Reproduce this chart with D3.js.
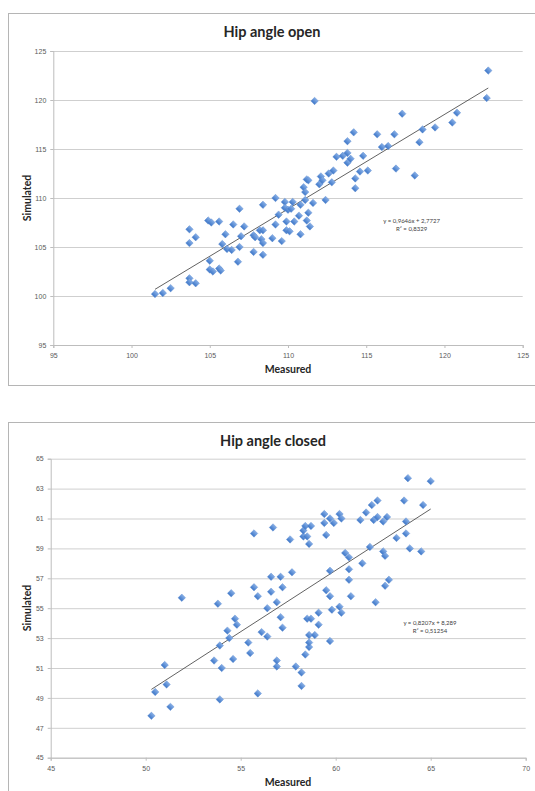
<!DOCTYPE html>
<html>
<head>
<meta charset="utf-8">
<script src="https://cdn.jsdelivr.net/npm/d3@7"></script>
<style>
  body { margin: 0; background: #fff; }
  svg { display: block; font-family: Lato, "Open Sans", sans-serif; }
  .tick text { font-size: 7px; }
  .axisTitle { font-weight: bold; font-size: 10.5px; fill: #262626; }
  .chartTitle { font-weight: bold; font-size: 14.5px; fill: #262626; }
  .eq { font-size: 6px; fill: #404040; }
</style>
</head>
<body>
<div id="chart"></div>
<script>
// Hip angle open: measured vs simulated
var openMeasured = [101.5, 102.0, 102.5, 103.7, 103.7, 104.1, 103.7, 103.7, 104.1, 104.9,
  105.1, 105.6, 105.0, 105.0, 105.2, 105.6, 105.7, 105.8, 106.0, 106.1,
  106.4, 106.5, 106.9, 107.0, 106.9, 106.8, 107.2, 107.8, 107.9, 107.8,
  108.2, 108.3, 108.4, 108.4, 108.4, 108.4, 109.0, 109.2, 109.2, 109.4,
  109.6, 109.8, 109.8, 109.9, 109.9, 110.0, 110.1, 110.2, 110.3, 110.4,
  110.7, 110.8, 110.8, 111.0, 111.1, 111.1, 111.2, 111.2, 111.3, 111.3,
  111.4, 111.7, 111.6, 112.0, 112.1, 112.2, 112.4, 112.6, 112.9, 112.8,
  113.1, 113.5, 113.8, 113.8, 113.8, 114.0, 114.2, 114.3, 114.3, 114.6,
  114.8, 115.1, 115.7, 116.0, 116.4, 116.8, 116.9, 117.3, 118.1, 118.4,
  118.6, 119.4, 120.5, 120.8, 122.7, 122.8];
var openSimulated = [100.2, 100.3, 100.8, 106.8, 105.4, 106.0, 101.8, 101.4, 101.3, 107.7,
  107.5, 107.6, 103.6, 102.7, 102.5, 102.8, 102.6, 105.3, 106.3, 104.8,
  104.7, 107.3, 108.9, 106.1, 105.0, 103.5, 107.1, 106.2, 106.0, 104.5,
  106.7, 105.8, 109.3, 106.7, 105.4, 104.2, 105.9, 107.3, 110.0, 108.3,
  105.6, 109.6, 109.0, 107.6, 106.7, 108.8, 106.6, 108.9, 109.6, 107.6,
  108.2, 106.3, 109.3, 111.1, 110.6, 109.8, 107.7, 111.9, 111.8, 108.5,
  107.1, 119.9, 109.5, 111.4, 112.2, 111.8, 109.8, 112.5, 112.8, 111.6,
  114.2, 114.3, 114.6, 115.8, 113.6, 114.0, 116.7, 112.0, 111.0, 112.7,
  114.3, 112.8, 116.5, 115.2, 115.3, 116.5, 113.0, 118.6, 112.3, 115.7,
  117.0, 117.2, 117.7, 118.7, 120.2, 123.0];

// Hip angle closed: measured vs simulated
var closedMeasured = [50.3, 50.5, 51.0, 51.1, 51.3, 51.9, 53.6, 53.8, 53.9, 53.9,
  54.0, 54.3, 54.4, 54.5, 54.6, 54.7, 54.8, 55.4, 55.5, 55.7,
  55.7, 55.9, 55.9, 56.1, 56.4, 56.4, 56.6, 56.6, 56.7, 56.9,
  56.9, 56.9, 57.1, 57.1, 57.2, 57.2, 57.6, 57.7, 57.9, 58.2,
  58.2, 58.3, 58.3, 58.4, 58.4, 58.5, 58.5, 58.6, 58.6, 58.6,
  58.7, 58.6, 58.7, 58.9, 59.1, 59.1, 59.4, 59.4, 59.5, 59.5,
  59.7, 59.7, 59.7, 59.7, 59.8, 59.9, 60.2, 60.2, 60.3, 60.3,
  60.5, 60.7, 60.7, 60.7, 60.8, 61.3, 61.4, 61.6, 61.8, 61.9,
  62.0, 62.1, 62.2, 62.2, 62.5, 62.5, 62.6, 62.6, 62.7, 62.8,
  63.2, 63.6, 63.7, 63.7, 63.8, 63.9, 64.5, 64.6, 65.0];
var closedSimulated = [47.8, 49.4, 51.2, 49.9, 48.4, 55.7, 51.5, 55.3, 52.5, 48.9,
  51.0, 53.5, 53.0, 56.0, 51.6, 54.3, 53.9, 52.7, 52.0, 60.0,
  56.4, 55.8, 49.3, 53.4, 55.0, 53.1, 57.1, 56.1, 60.4, 51.1,
  51.5, 55.4, 57.1, 54.4, 56.4, 53.7, 59.6, 57.4, 51.1, 49.8,
  50.7, 59.8, 60.2, 60.5, 51.9, 54.3, 59.8, 52.4, 52.7, 59.3,
  54.3, 53.2, 60.5, 53.2, 53.9, 54.7, 60.7, 61.3, 59.9, 56.2,
  52.8, 57.5, 55.8, 61.0, 54.9, 60.7, 61.3, 55.1, 54.7, 61.0,
  58.7, 57.6, 58.4, 56.9, 55.8, 60.9, 58.0, 61.4, 59.1, 61.9,
  60.9, 55.4, 62.2, 61.1, 58.8, 60.8, 58.5, 56.5, 61.1, 56.9,
  59.7, 62.2, 60.8, 60.0, 63.7, 59.0, 58.8, 61.9, 63.5];

var openTicksX = [95, 100, 105, 110, 115, 120, 125];
var openTicksY = [95, 100, 105, 110, 115, 120, 125];
var closedTicksX = [45, 50, 55, 60, 65, 70];
var closedTicksY = [45, 47, 49, 51, 53, 55, 57, 59, 61, 63, 65];

var svg = d3.select("#chart")
  .append("svg")
  .attr("width", 535)
  .attr("height", 791);

// marker gradient
var grad = svg.append("defs").append("linearGradient")
  .attr("id", "mk")
  .attr("x1", 0).attr("y1", 0).attr("x2", 0).attr("y2", 1);
grad.append("stop").attr("offset", "0%").attr("stop-color", "#86aee6");
grad.append("stop").attr("offset", "100%").attr("stop-color", "#3f78c9");

function drawChart(o) {
  // outer frame
  svg.append("rect")
    .attr("x", o.frame[0] + 0.5)
    .attr("y", o.frame[1] + 0.5)
    .attr("width", o.frame[2])
    .attr("height", o.frame[3])
    .attr("fill", "none")
    .attr("stroke", "#b5b5b5");

  var x = d3.scaleLinear().domain(o.xDomain).range([o.left, o.right]);
  var y = d3.scaleLinear().domain(o.yDomain).range([o.bottom, o.top]);

  // horizontal gridlines
  svg.append("g")
    .attr("transform", `translate(${o.left},0)`)
    .call(d3.axisLeft(y).tickValues(o.yTicks).tickSize(-(o.right - o.left)).tickFormat(""))
    .call(g => g.select(".domain").remove())
    .call(g => g.selectAll("line").attr("stroke", "#cfcfcf").attr("stroke-width", 1));

  var xAxis = svg.append("g")
    .attr("transform", `translate(0,${o.bottom})`)
    .call(d3.axisBottom(x).tickValues(o.xTicks).tickSize(3).tickPadding(5));
  var yAxis = svg.append("g")
    .attr("transform", `translate(${o.left},0)`)
    .call(d3.axisLeft(y).tickValues(o.yTicks).tickSize(3).tickPadding(4));
  [xAxis, yAxis].forEach(function(a) {
    a.attr("color", "#5a5a5a");
    a.select(".domain").attr("stroke", "#bdbdbd");
    a.selectAll(".tick line").attr("stroke", "#bdbdbd");
  });

  // trend line over data extent
  var ext = d3.extent(o.xs);
  svg.append("line")
    .attr("x1", x(ext[0])).attr("y1", y(o.slope * ext[0] + o.icpt))
    .attr("x2", x(ext[1])).attr("y2", y(o.slope * ext[1] + o.icpt))
    .attr("stroke", "#3a3a3a")
    .attr("stroke-width", 0.8);

  // diamonds
  var sym = d3.symbol().type(d3.symbolSquare).size(28);
  svg.append("g").selectAll("path")
    .data(o.xs.map((v, i) => [v, o.ys[i]]))
    .enter()
    .append("path")
    .attr("d", sym)
    .attr("transform", d => `translate(${x(d[0])},${y(d[1])}) rotate(45)`)
    .attr("fill", "url(#mk)")
    .attr("stroke", "#5a8ad0")
    .attr("stroke-width", 0.4);

  // equation
  var eq = svg.append("text")
    .attr("class", "eq")
    .attr("text-anchor", "middle")
    .attr("x", x(o.eqPos[0]))
    .attr("y", y(o.eqPos[1]));
  eq.append("tspan").text(o.eq1);
  eq.append("tspan").attr("x", x(o.eqPos[0])).attr("dy", 8.5).text(o.eq2);

  svg.append("text")
    .attr("class", "chartTitle")
    .attr("text-anchor", "middle")
    .attr("x", o.titlePos[0])
    .attr("y", o.titlePos[1])
    .text(o.title);

  svg.append("text")
    .attr("class", "axisTitle")
    .attr("text-anchor", "middle")
    .attr("x", 288)
    .attr("y", o.xTitleY)
    .text("Measured");

  svg.append("text")
    .attr("class", "axisTitle")
    .attr("text-anchor", "middle")
    .attr("transform", `translate(31,${o.yTitleY}) rotate(-90)`)
    .text("Simulated");
}

drawChart({
  frame: [8, 13, 530, 372],
  left: 53.3, right: 522.7, top: 51, bottom: 345,
  xDomain: [95, 125], yDomain: [95, 125],
  xTicks: openTicksX, yTicks: openTicksY,
  xs: openMeasured, ys: openSimulated,
  slope: 0.9646, icpt: 2.7727,
  eqPos: [117.9, 107.45],
  eq1: "y = 0,9646x + 2,7727", eq2: "R\u00b2 = 0,8329",
  title: "Hip angle open", titlePos: [272, 37],
  xTitleY: 373, yTitleY: 198
});

drawChart({
  frame: [8, 422, 530, 380],
  left: 50.7, right: 525.7, top: 458.7, bottom: 757.7,
  xDomain: [45, 70], yDomain: [45, 65],
  xTicks: closedTicksX, yTicks: closedTicksY,
  xs: closedMeasured, ys: closedSimulated,
  slope: 0.8207, icpt: 8.289,
  eqPos: [64.96, 53.9],
  eq1: "y = 0,8207x + 8,289", eq2: "R\u00b2 = 0,51254",
  title: "Hip angle closed", titlePos: [273, 446],
  xTitleY: 786, yTitleY: 608
});
</script>
</body>
</html>
